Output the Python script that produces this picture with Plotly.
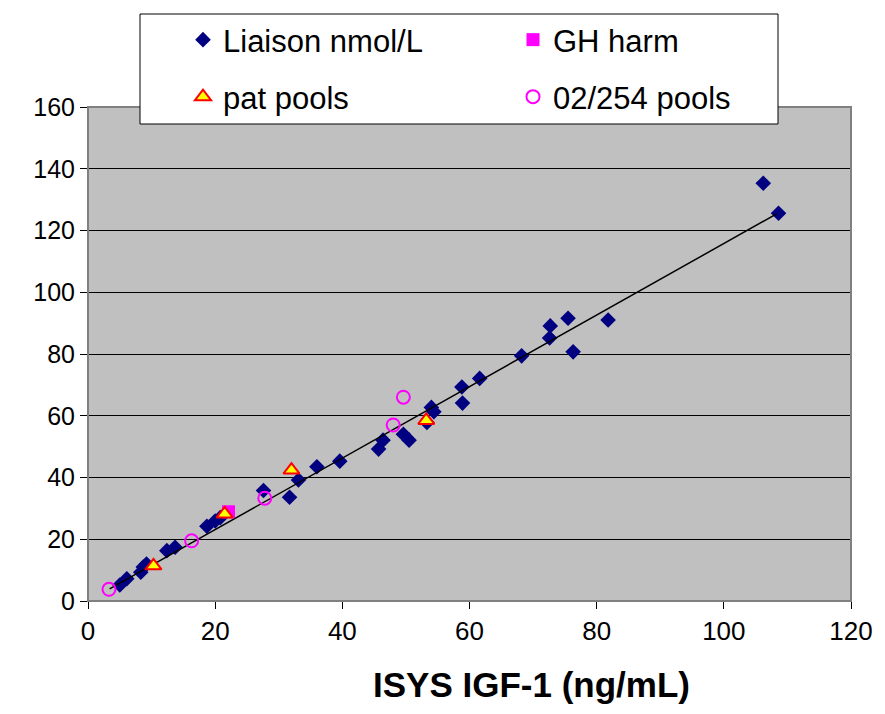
import plotly.graph_objects as go

# ---- data ----
liaison_x = [5.0, 6.1, 8.3, 8.7, 9.2, 12.4, 13.7, 18.7, 20.0, 20.8, 27.6, 31.7, 33.1, 36.0, 39.6,
             45.7, 46.4, 49.6, 50.5, 53.3, 54.0, 54.4, 58.8, 58.9, 61.6, 68.2, 72.6, 72.7, 75.5,
             76.3, 81.8, 106.2, 108.6]
liaison_y = [5.2, 7.2, 9.3, 11.0, 12.0, 16.3, 17.4, 24.2, 25.9, 27.0, 35.8, 33.6, 39.2, 43.5, 45.3,
             49.2, 52.1, 54.0, 52.1, 57.8, 62.7, 61.3, 69.3, 64.1, 72.1, 79.4, 85.2, 89.1, 91.6,
             80.7, 91.0, 135.3, 125.6]

gh_x = [22.1]
gh_y = [28.9]

pat_x = [10.3, 21.5, 32.0, 53.2]
pat_y = [11.4, 28.2, 42.4, 58.5]

pools_x = [3.3, 16.3, 27.8, 48.0, 49.6]
pools_y = [3.8, 19.5, 33.3, 57.0, 66.0]

trend_x = [3.4, 108.3]
trend_y = [3.9, 125.4]

x_ticks = [0, 20, 40, 60, 80, 100, 120]
y_ticks = [0, 20, 40, 60, 80, 100, 120, 140, 160]

x_title = "ISYS IGF-1 (ng/mL)"

FONT = "Liberation Sans, Arial, sans-serif"

OFF = 8  # page body margin
W, H = 885 - 2 * OFF, 714 - 2 * OFF
# plot area in reference pixels: x 88..851, y 107..601
L = 88 - OFF
T = 107 - OFF
R = W - (851 - OFF)
B = H - (601 - OFF)
pw, ph = W - L - R, H - T - B


def px2paper_x(px):
    return (px - OFF - L) / pw


def px2paper_y(py):
    return (H - B - (py - OFF)) / ph


fig = go.Figure()

fig.add_trace(go.Scatter(
    x=liaison_x, y=liaison_y, mode="markers", name="Liaison nmol/L",
    marker=dict(symbol="diamond", size=12, color="#000080", line=dict(width=0)),
    legend="legend"))

fig.add_trace(go.Scatter(
    x=trend_x, y=trend_y, mode="lines", showlegend=False,
    line=dict(color="black", width=1.5), hoverinfo="skip"))

fig.add_trace(go.Scatter(
    x=gh_x, y=gh_y, mode="markers", name="GH harm",
    marker=dict(symbol="square", size=13, color="#FF00FF", line=dict(width=0)),
    legend="legend"))

fig.add_trace(go.Scatter(
    x=pat_x, y=pat_y, mode="markers", name="pat pools",
    marker=dict(symbol="triangle-up", size=14, color="#FFFF00",
                line=dict(color="#FF0000", width=2)),
    legend="legend2"))

fig.add_trace(go.Scatter(
    x=pools_x, y=pools_y, mode="markers", name="02/254 pools",
    marker=dict(symbol="circle-open", size=13, color="#FF00FF",
                line=dict(color="#FF00FF", width=2)),
    legend="legend2"))

legend_common = dict(
    orientation="h", xanchor="left", yanchor="middle",
    bgcolor="rgba(0,0,0,0)", borderwidth=0,
    font=dict(family=FONT, size=31, color="black"),
    entrywidth=285, entrywidthmode="pixels",
)

fig.update_layout(
    width=W, height=H,
    margin=dict(l=L, r=R, t=T, b=B, autoexpand=False),
    paper_bgcolor="white",
    plot_bgcolor="#C0C0C0",
    font=dict(family=FONT, color="black"),
    legend=dict(x=px2paper_x(183), y=px2paper_y(40), **legend_common),
    legend2=dict(x=px2paper_x(183), y=px2paper_y(97), **legend_common),
    xaxis=dict(
        range=[0, 120], tickvals=x_ticks, ticktext=[str(v) for v in x_ticks],
        showgrid=False, zeroline=False,
        showline=True, linecolor="black", linewidth=1,
        ticks="outside", ticklen=7, tickcolor="black",
        tickfont=dict(family=FONT, size=26, color="black"),
    ),
    yaxis=dict(
        range=[0, 160], tickvals=y_ticks, ticktext=[str(v) for v in y_ticks],
        showgrid=True, gridcolor="black", gridwidth=1, zeroline=False,
        showline=True, linecolor="black", linewidth=1,
        ticks="outside", ticklen=7, tickcolor="black",
        tickfont=dict(family=FONT, size=25, color="black"),
    ),
    shapes=[
        # plot-area border
        dict(type="rect", xref="x domain", yref="y domain", x0=0, x1=1, y0=0, y1=1,
             line=dict(color="#808080", width=2), fillcolor="rgba(0,0,0,0)", layer="above"),
        # legend box
        dict(type="rect", xref="paper", yref="paper",
             x0=px2paper_x(140), x1=px2paper_x(778),
             y0=px2paper_y(124), y1=px2paper_y(14),
             line=dict(color="black", width=1), fillcolor="white", layer="above"),
    ],
    annotations=[
        dict(text=f"<b>{x_title}</b>", xref="paper", yref="paper",
             x=px2paper_x(531), y=px2paper_y(684), xanchor="center", yanchor="middle",
             showarrow=False, font=dict(family=FONT, size=35, color="black")),
    ],
)

fig.write_html("out.html")
